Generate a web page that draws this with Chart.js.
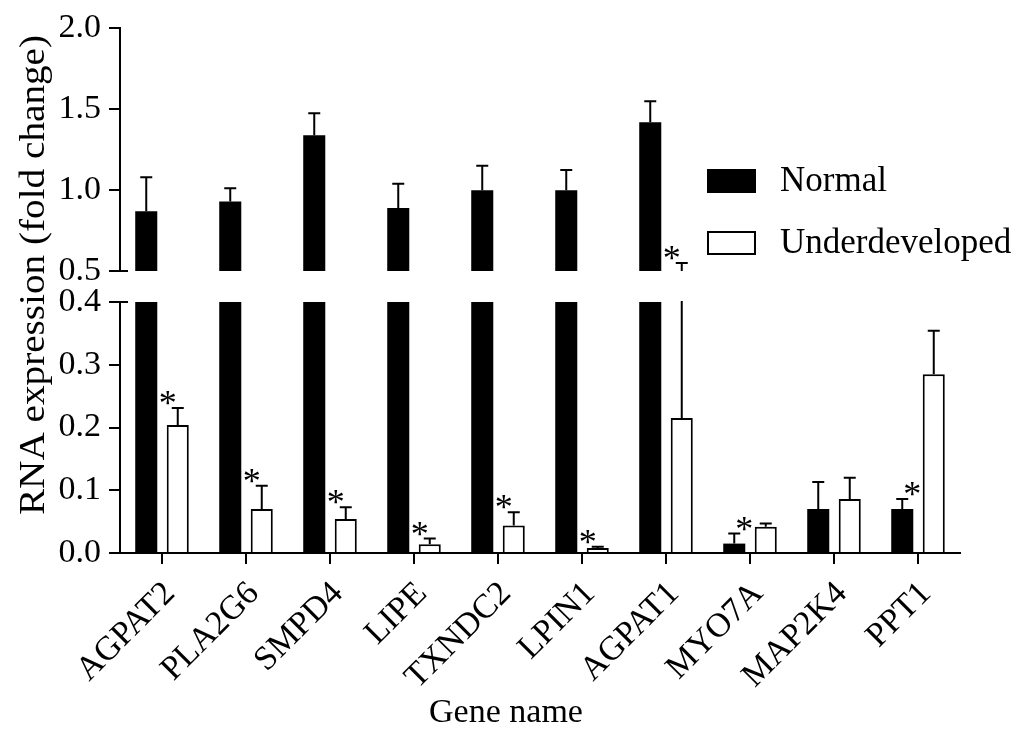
<!DOCTYPE html>
<html>
<head>
<meta charset="utf-8">
<script src="https://cdn.jsdelivr.net/npm/chart.js@4.4.1/dist/chart.umd.min.js"></script>
<style>
	body { margin:0; background:#fff; }
	canvas { position:absolute; left:0; top:0; }
</style>
</head>
<body>
<canvas id="lo" width="1019" height="730"></canvas>
<canvas id="hi" width="1019" height="730"></canvas>
<script>
const genes = ['AGPAT2', 'PLA2G6', 'SMPD4', 'LIPE', 'TXNDC2', 'LPIN1', 'AGPAT1', 'MYO7A', 'MAP2K4', 'PPT1']
const normal = [0.87, 0.93, 1.34, 0.89, 1.00, 1.00, 1.42, 0.015, 0.07, 0.07]
const normalErr = [0.21, 0.082, 0.135, 0.15, 0.15, 0.125, 0.13, 0.016, 0.043, 0.016]
const under = [0.204, 0.07, 0.054, 0.014, 0.044, 0.008, 0.215, 0.042, 0.086, 0.285]
const underErr = [0.027, 0.037, 0.019, 0.009, 0.021, 0.002, 0.335, 0.005, 0.034, 0.069]
// which bar of each pair carries the * mark
const sig = ['U', 'U', 'U', 'U', 'U', 'U', 'U', 'N', '', 'N']
const lowTicks = [0, 0.1, 0.2, 0.3, 0.4]
const highTicks = [0.5, 1.0, 1.5, 2.0]

const serif = '"Liberation Serif", "Times New Roman", serif'

const errBars = {
	id: 'errBars',
	afterDatasetsDraw(c) {
		const {ctx, chartArea: a, scales: {y}} = c
		ctx.save()
		ctx.beginPath()
		ctx.rect(a.left, a.top - 1, a.right - a.left, a.bottom - a.top + 1)
		ctx.clip()
		ctx.strokeStyle = '#000'
		ctx.lineWidth = 2
		c.data.datasets.forEach((d, i) => {
			c.getDatasetMeta(i).data.forEach((b, j) => {
				const y0 = y.getPixelForValue(d.data[j]), y1 = y.getPixelForValue(d.data[j] + d.err[j])
				ctx.beginPath()
				ctx.moveTo(b.x, y0); ctx.lineTo(b.x, y1)
				ctx.moveTo(b.x - 6, y1); ctx.lineTo(b.x + 6, y1)
				ctx.stroke()
			})
		})
		ctx.fillStyle = '#000'
		ctx.font = '36px ' + serif
		ctx.textAlign = 'center'
		ctx.textBaseline = 'alphabetic'
		sig.forEach((s, j) => {
			if (!s) return
			const i = s == 'N' ? 0 : 1
			const d = c.data.datasets[i]
			const b = c.getDatasetMeta(i).data[j]
			const yy = y.getPixelForValue(d.data[j] + d.err[j])
			ctx.fillText('*', b.x + (i ? -10 : 10), yy + 7)
		})
		ctx.restore()
		// little end pieces at the axis break
		const yb = c.options.brk == 'bottom' ? a.bottom : a.top
		ctx.save()
		ctx.strokeStyle = '#000'; ctx.lineWidth = 2
		ctx.beginPath(); ctx.moveTo(a.left - 1, yb); ctx.lineTo(a.left + 8, yb); ctx.stroke()
		ctx.restore()
	}
}

const legendBox = {
	id: 'legendBox',
	afterDraw(c) {
		const ctx = c.ctx
		ctx.save()
		ctx.font = '35px ' + serif
		ctx.textBaseline = 'middle'
		ctx.lineWidth = 2
		c.data.datasets.forEach((d, i) => {
			const y = 170 + i * 62
			ctx.fillStyle = d.backgroundColor
			ctx.fillRect(708, y, 47, 22)
			ctx.strokeStyle = '#000'
			ctx.strokeRect(708, y, 47, 22)
			ctx.fillStyle = '#000'
			ctx.fillText(d.label, 780, y + 12)
		})
		ctx.restore()
	}
}

const titles = {
	id: 'titles',
	afterDraw(c) {
		const ctx = c.ctx
		ctx.save()
		ctx.fillStyle = '#000'
		ctx.textAlign = 'center'
		ctx.font = '34px ' + serif
		ctx.textBaseline = 'alphabetic'
		ctx.fillText('Gene name', 506, 722)
		ctx.translate(35, 275)
		ctx.rotate(-Math.PI / 2)
		ctx.scale(1.12, 1)
		ctx.font = '35px ' + serif
		ctx.textBaseline = 'middle'
		ctx.fillText('RNA expression (fold change)', 0, 0)
		ctx.restore()
	}
}

const sets = () => [
	{ label:'Normal', data:normal, err:normalErr, backgroundColor:'#000', borderColor:'#000', borderWidth:0 },
	{ label:'Underdeveloped', data:under, err:underErr, backgroundColor:'#fff', borderColor:'#000', borderWidth:2 },
].map(d => ({ ...d, categoryPercentage:0.75, barPercentage:0.7, clip:{left:false, right:false, top:0, bottom:0} }))

const yAxis = t => ({
	min: t[0], max: t[t.length - 1],
	afterFit: s => { s.width = 120 },
	afterBuildTicks: s => { s.ticks = t.map(v => ({ value:v })) },
	border: { color:'#000', width:2 },
	grid: { drawOnChartArea:false, tickLength:11, color:'#000', lineWidth:2 },
	ticks: { color:'#000', padding:8, font:{ family:serif, size:34 }, callback: v => v.toFixed(1) }
})

const base = {
	responsive: false,
	animation: false,
	plugins: { legend:{ display:false }, tooltip:{ enabled:false } },
}

new Chart(document.getElementById('lo'), {
	type: 'bar',
	data: { labels:genes, datasets:sets() },
	options: {
		...base,
		brk: 'top',
		layout: { autoPadding:false, padding:{ top:302, right:59, bottom:0, left:0 } },
		scales: {
			x: {
				afterFit: s => { s.height = 177 },
				border: { color:'#000', width:2 },
				grid: { drawOnChartArea:false, offset:false, tickLength:11, color:'#000', lineWidth:2 },
				ticks: { color:'#000', autoSkip:false, minRotation:45, maxRotation:45, padding:10, labelOffset:8, font:{ family:serif, size:34 } }
			},
			y: yAxis(lowTicks)
		}
	},
	plugins: [errBars, titles]
})

new Chart(document.getElementById('hi'), {
	type: 'bar',
	data: { labels:genes, datasets:sets() },
	options: {
		...base,
		brk: 'bottom',
		layout: { autoPadding:false, padding:{ top:22, right:59, bottom:459, left:0 } },
		scales: {
			x: { display:false },
			y: yAxis(highTicks)
		}
	},
	plugins: [errBars, legendBox]
})
</script>
</body>
</html>
